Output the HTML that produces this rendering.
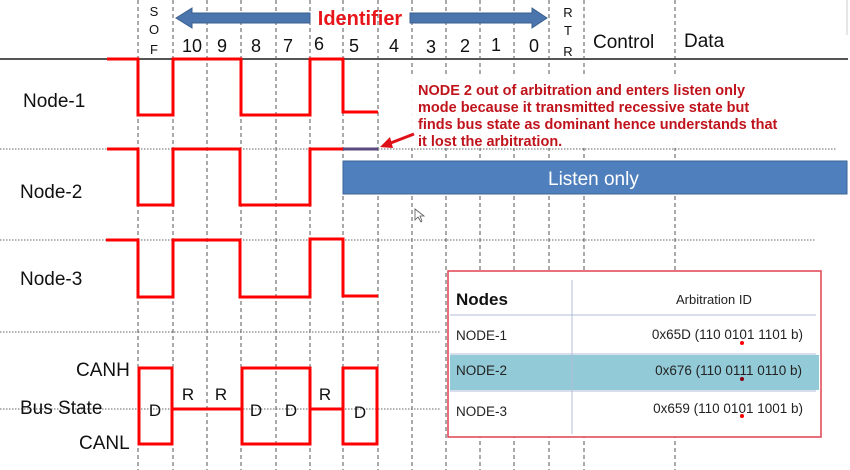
<!DOCTYPE html>
<html><head><meta charset="utf-8"><style>
html,body{margin:0;padding:0;background:#fff;}
svg{display:block;}
text{font-family:"Liberation Sans",Arial,sans-serif;}
</style></head><body>
<svg width="850" height="470" viewBox="0 0 850 470" xmlns="http://www.w3.org/2000/svg">
<rect width="850" height="470" fill="#fff"/>
<g stroke="#555" stroke-width="1" stroke-dasharray="4,3">
<line x1="138" y1="0" x2="138" y2="470"/><line x1="173" y1="0" x2="173" y2="470"/>
<line x1="207" y1="0" x2="207" y2="470"/><line x1="241" y1="0" x2="241" y2="470"/>
<line x1="276" y1="0" x2="276" y2="470"/><line x1="310" y1="0" x2="310" y2="470"/>
<line x1="343" y1="0" x2="343" y2="470"/><line x1="378" y1="0" x2="378" y2="470"/>
<line x1="412" y1="0" x2="412" y2="470"/><line x1="446" y1="0" x2="446" y2="470"/>
<line x1="480" y1="0" x2="480" y2="470"/><line x1="514" y1="0" x2="514" y2="470"/>
<line x1="549" y1="0" x2="549" y2="470"/><line x1="584" y1="0" x2="584" y2="470"/>
<line x1="675" y1="0" x2="675" y2="470"/>
</g>
<g stroke="#666" stroke-width="1" stroke-dasharray="1.5,1.5">
<line x1="0" y1="149" x2="837" y2="149"/>
<line x1="0" y1="240" x2="815" y2="240"/>
<line x1="0" y1="332" x2="440" y2="332"/>
<line x1="0" y1="409" x2="440" y2="409"/>
</g>
<line x1="0" y1="59" x2="848" y2="59" stroke="#555" stroke-width="2"/>
<line x1="847" y1="0" x2="847" y2="35" stroke="#ccc" stroke-width="1"/>
<g font-size="13" fill="#111" text-anchor="middle">
<text x="154" y="16">S</text><text x="154" y="34">O</text><text x="154" y="54">F</text>
<text x="568" y="17">R</text><text x="568" y="35">T</text><text x="568" y="56">R</text>
</g>
<g font-size="18" fill="#111" text-anchor="middle">
<text x="192" y="52">10</text><text x="222" y="52">9</text><text x="256" y="52">8</text>
<text x="288" y="52">7</text><text x="319" y="50">6</text><text x="354" y="52">5</text>
<text x="394" y="52">4</text><text x="431" y="53">3</text><text x="465" y="52">2</text>
<text x="496" y="51">1</text><text x="534" y="52">0</text>
</g>
<text x="593" y="48" font-size="19" fill="#111">Control</text>
<text x="684" y="47" font-size="19" fill="#111">Data</text>
<polygon points="176,18 192,8 192,13 310,13 310,23 192,23 192,28" fill="#4a76ad" stroke="#3a5f8f"/>
<polygon points="547,18 532,8 532,13 410,13 410,23 532,23 532,28" fill="#4a76ad" stroke="#3a5f8f"/>
<text x="360" y="25" font-size="20" font-weight="bold" fill="#e8151b" text-anchor="middle">Identifier</text>
<g font-size="19" fill="#111">
<text x="23" y="107">Node-1</text><text x="20" y="198">Node-2</text><text x="20" y="285">Node-3</text>
<text x="76" y="376">CANH</text><text x="20" y="414">Bus State</text><text x="79" y="449">CANL</text>
</g>
<g fill="none" stroke="#f00" stroke-width="3">
<polyline points="107,59 138,59 138,115 173,115 173,59 241,59 241,115 310,115 310,59 343,59 343,112 378,112"/>
<polyline points="107,149 138,149 138,205 173,205 173,149 240,149 240,205 310,205 310,149 343,149"/>
<polyline points="106,240 138,240 138,297 173,297 173,240 240,240 240,297 310,297 310,239 343,239 343,296 378,296"/>
<rect x="139" y="368" width="33" height="76"/>
<polyline points="172,409 241,409"/>
<rect x="242" y="368" width="68" height="76"/>
<polyline points="310,409 343,409"/>
<rect x="343" y="368" width="34" height="76"/>
</g>
<line x1="343" y1="149" x2="378" y2="149" stroke="#5a4a80" stroke-width="3"/>
<g font-size="17" fill="#111" text-anchor="middle">
<text x="155" y="416">D</text><text x="256" y="416">D</text><text x="291" y="416">D</text><text x="360" y="418">D</text>
<text x="188" y="400">R</text><text x="221" y="400">R</text><text x="325" y="400">R</text>
</g>
<rect x="343" y="161" width="504" height="33" fill="#4f7fbc" stroke="#3d6699"/>
<text x="548" y="185" font-size="19" fill="#fff">Listen only</text>
<rect x="410" y="74" width="390" height="74" fill="#fff" opacity="0.95"/>
<g font-size="14.5" font-weight="bold" fill="#c0141c">
<text x="418" y="95">NODE 2 out of arbitration and enters listen only</text>
<text x="418" y="112">mode because it transmitted recessive state but</text>
<text x="418" y="129">finds bus state as dominant hence understands that</text>
<text x="418" y="146">it lost the arbitration.</text>
</g>
<line x1="414" y1="134" x2="388" y2="144" stroke="#e0101a" stroke-width="3"/>
<polygon points="380,147 390,137 393,148" fill="#e0101a"/>
<rect x="448" y="271" width="373" height="166" fill="#fff" stroke="#e04050" stroke-width="1.5"/>
<rect x="450" y="355" width="369" height="35" fill="#92cbd7"/>
<line x1="572" y1="280" x2="572" y2="434" stroke="#b0bcd8"/>
<line x1="450" y1="315" x2="816" y2="315" stroke="#b0bcd8"/>
<line x1="450" y1="354" x2="816" y2="354" stroke="#b0bcd8"/>
<line x1="450" y1="391" x2="816" y2="391" stroke="#b0bcd8"/>
<text x="456" y="305" font-size="17" font-weight="bold" fill="#111">Nodes</text>
<text x="676" y="304" font-size="13" fill="#222">Arbitration ID</text>
<g font-size="13.5" fill="#222">
<text x="456" y="340">NODE-1</text><text x="456" y="375">NODE-2</text><text x="456" y="416">NODE-3</text>
<text x="803" y="339" text-anchor="end">0x65D (110 0101 1101 b)</text>
<text x="802" y="375" text-anchor="end">0x676 (110 0111 0110 b)</text>
<text x="803" y="413" text-anchor="end">0x659 (110 0101 1001 b)</text>
</g>
<circle cx="742" cy="343" r="2" fill="#f00"/>
<circle cx="742" cy="379" r="2" fill="#8a0010"/>
<circle cx="742" cy="416" r="2" fill="#f00"/>
<polygon points="415,209 415,220 418,217 421,222 422,221 420,216 424,216" fill="#fff" stroke="#555" stroke-width="0.8"/>
</svg>
</body></html>
